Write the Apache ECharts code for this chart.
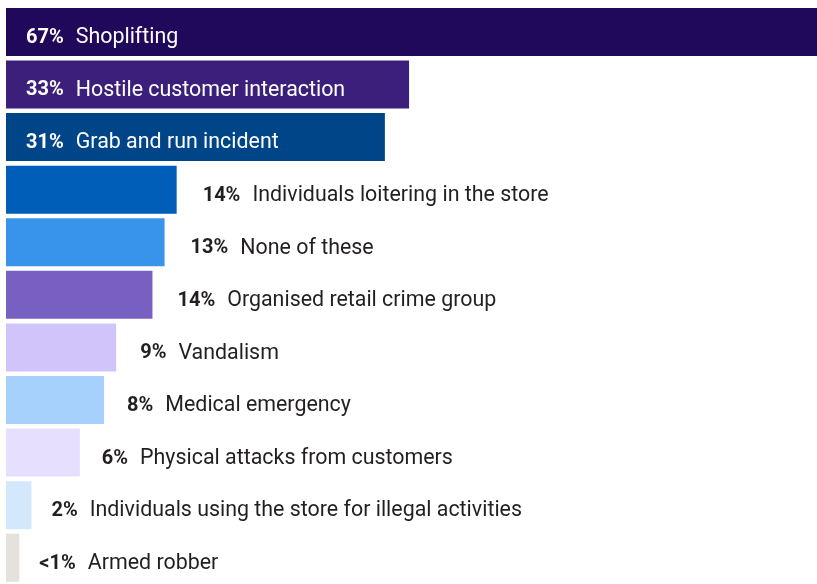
<!DOCTYPE html>
<html>
<head>
<meta charset="utf-8">
<script src="https://cdn.jsdelivr.net/npm/echarts@6/dist/echarts.min.js"></script>
<style>
  html, body { margin: 0; padding: 0; background: #fff; }
  #chart { width: 817px; height: 584px; }
</style>
</head>
<body>
<div id="chart"></div>
<script>
// categories, top to bottom
const categories = [
  'Shoplifting',
  'Hostile customer interaction',
  'Grab and run incident',
  'Individuals loitering in the store',
  'None of these',
  'Organised retail crime group',
  'Vandalism',
  'Medical emergency',
  'Physical attacks from customers',
  'Individuals using the store for illegal activities',
  'Armed robber'
];
// bar lengths as drawn (percent)
const values = [67, 33.3, 31.3, 14.1, 13.1, 12.1, 9.1, 8.1, 6.1, 2.1, 1.1];
// printed percentages
const pctLabels = ['67%', '33%', '31%', '14%', '13%', '14%', '9%', '8%', '6%', '2%', '<1%'];
const colors = ['#20085a', '#3b1f7a', '#004587', '#005eb8', '#3894ea', '#7760c2',
                '#d0c4fb', '#a6d1fc', '#e6e0fe', '#d3e8fd', '#e5e1dc'];

const chart = echarts.init(document.getElementById('chart'));

// first three bars carry their label inside
const seriesData = values.map(function (v, i) {
  const inside = i < 3;
  return {
    value: v,
    itemStyle: { color: colors[i] },
    label: {
      position: inside ? 'insideLeft' : 'right',
      distance: inside ? 20 : Math.round(19 + v * 0.5),
      offset: [0, 6],
      rich: {
        p: { fontWeight: 'bold', fontSize: 20, fontFamily: 'Roboto', color: inside ? '#fff' : '#231f20' },
        n: { fontSize: 21.4, fontFamily: 'Roboto', color: inside ? '#fff' : '#231f20', padding: [0, 0, 0, 12] }
      }
    }
  };
});

const option = {
  animation: false,
  grid: { left: 6, right: 0, top: 5.6, bottom: -1.3, containLabel: false },
  xAxis: { type: 'value', min: 0, max: 67, show: false },
  yAxis: {
    type: 'category',
    data: categories,
    inverse: true,
    show: false
  },
  series: [{
    type: 'bar',
    barWidth: 48,
    data: seriesData,
    label: {
      show: true,
      formatter: function (p) {
        return '{p|' + pctLabels[p.dataIndex] + '}{n|' + categories[p.dataIndex] + '}';
      }
    }
  }]
};

chart.setOption(option);
</script>
</body>
</html>
